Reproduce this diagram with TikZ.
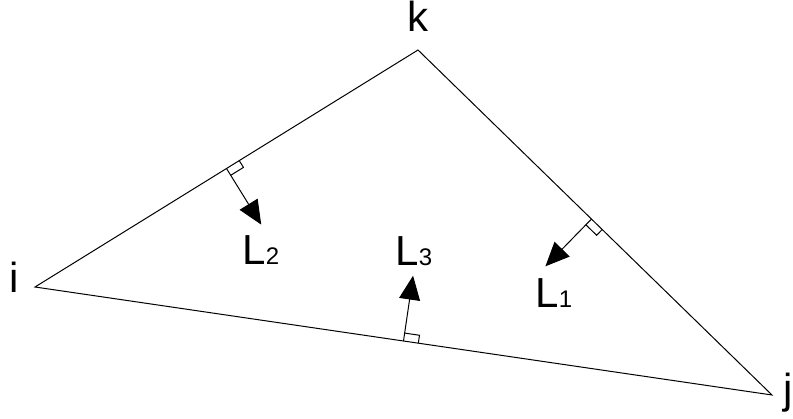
\documentclass[tikz,border=0pt]{standalone}
\usepackage{fontspec}
\setmainfont{Liberation Sans}
\usetikzlibrary{calc, arrows.meta}

\newcommand{\Lsub}[1]{L{\fontsize{12}{14}\selectfont #1}}

\begin{document}
\begin{tikzpicture}[x=0.5pt, y=0.5pt, line width=0.5pt,
    vec/.style={-{Triangle[length=12pt, width=10.5pt]}},
    lbl/.style={inner sep=0pt, font=\fontsize{21}{25}\selectfont}]
    \useasboundingbox (0,0) rectangle (793,418);

    % Triangle
    \coordinate (i) at (35,131);
    \coordinate (k) at (418,368);
    \coordinate (j) at (772,23);
    \draw (i) -- (k) -- (j) -- cycle;

    % Corner labels
    \node[lbl, anchor=base] (ilbl) at (14,125) {i};
    \node[lbl, anchor=base] (klbl) at (418,386) {k};
    \node[lbl, anchor=base] (jlbl) at (788,14) {j};

    % Feet on the sides
    \coordinate (m1) at ($(k)!0.49!(j)$);
    \coordinate (m2) at ($(i)!0.5!(k)$);
    \coordinate (m3) at ($(i)!0.5!(j)$);

    % Normals
    \coordinate (e1) at ($(m1)!33pt!-90:(j)$);
    \coordinate (e2) at ($(m2)!33pt!-90:(k)$);
    \coordinate (e3) at ($(m3)!33pt!90:(j)$);
    \draw[vec] (m1) -- (e1);
    \draw[vec] (m2) -- (e2);
    \draw[vec] (m3) -- (e3);

    % Right angle marks
    \coordinate (a1) at ($(m1)!7.5pt!(j)$);
    \coordinate (b1) at ($(m1)!4pt!(e1)$);
    \draw (a1) -- ($(a1)+(b1)-(m1)$) -- (b1);
    \coordinate (a2) at ($(m2)!7.5pt!(k)$);
    \coordinate (b2) at ($(m2)!4pt!(e2)$);
    \draw (a2) -- ($(a2)+(b2)-(m2)$) -- (b2);
    \coordinate (a3) at ($(m3)!7.5pt!(j)$);
    \coordinate (b3) at ($(m3)!4pt!(e3)$);
    \draw (a3) -- ($(a3)+(b3)-(m3)$) -- (b3);

    % Normal labels
    \node[lbl, anchor=base west] (L1) at (535,110) {\Lsub{1}};
    \node[lbl, anchor=base west] (L2) at (242,153) {\Lsub{2}};
    \node[lbl, anchor=base west] (L3) at (395,152) {\Lsub{3}};
\end{tikzpicture}
\end{document}
